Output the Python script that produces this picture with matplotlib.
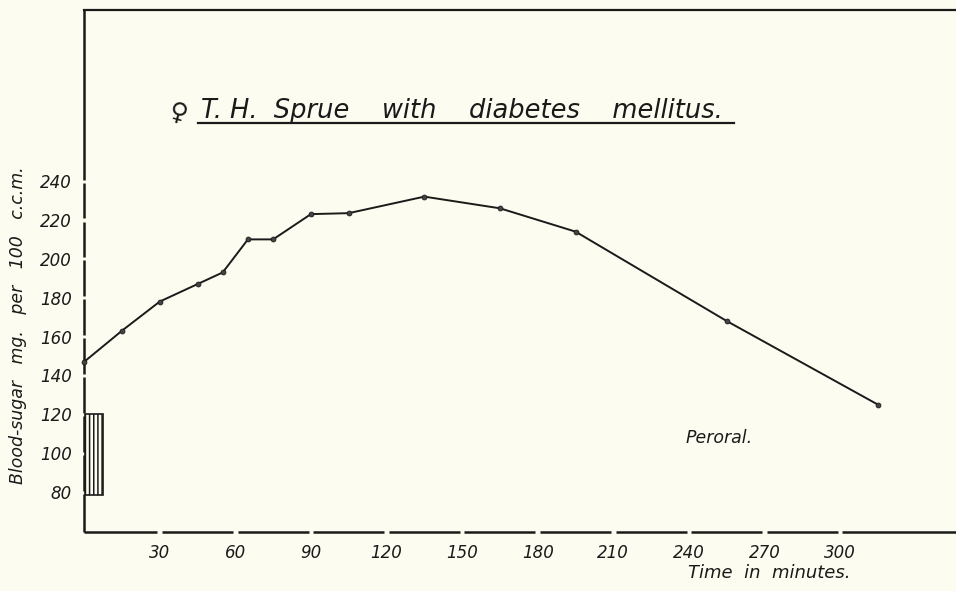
import numpy as np
import matplotlib.pyplot as plt
from matplotlib.lines import Line2D

# tidsserie: minutter / blodsukker mg per 100 ccm
minutes = [0, 15, 30, 45, 55, 65, 75, 90, 105, 135, 165, 195, 255, 315]
sugar = [147, 163, 178, 187, 193, 210, 210, 223, 223.5, 232, 226, 214, 168, 125]

xticks = [30, 60, 90, 120, 150, 180, 210, 240, 270, 300]
yticks = [80, 100, 120, 140, 160, 180, 200, 220, 240]

# dose-blokken nederst til venstre
dose_x, dose_w = 0.4, 7.0
dose_lo, dose_hi = 78.5, 120

title = "T. H.  Sprue    with    diabetes    mellitus."
ylabel = "Blood-sugar   mg.   per   100   c.c.m."
xlabel = "Time  in  minutes."
note = "Peroral."

bg = '#fdfcf0'
ink = '#1a1a1a'
plt.rcParams['font.family'] = ['DejaVu Sans']
plt.rcParams['hatch.linewidth'] = 1.1

fig = plt.figure(figsize=(9.56, 5.91), dpi=100, facecolor=bg)
ax = fig.add_axes([0.088, 0.1, 0.912, 0.883], facecolor=bg)

xmin, xmax = 0, 346
ymin, ymax = 59.5, 328
ax.set_xlim(xmin, xmax)
ax.set_ylim(ymin, ymax)

ax.plot(minutes, sugar, color=ink, lw=1.4, marker='o', ms=3.5,
        mfc='#444444', mec=ink, mew=0.6, clip_on=False, zorder=3)

ax.bar(dose_x, dose_hi - dose_lo, width=dose_w, bottom=dose_lo, align='edge',
       facecolor='none', edgecolor=ink, hatch='||||', lw=1.2, zorder=2)

# akser med små huller ved hvert tick
def gapped(ticks, lo, hi, half):
    edges = [lo] + [v for t in ticks for v in (t - half, t + half)] + [hi]
    return list(zip(edges[0::2], edges[1::2]))

for a, b in gapped(yticks, ymin, ymax, 0.8):
    ax.plot([0, 0], [a, b], color=ink, lw=1.8, clip_on=False,
            solid_capstyle='butt')
for a, b in gapped(xticks, xmin, xmax, 0.9):
    ax.plot([a, b], [ymin, ymin], color=ink, lw=1.8, clip_on=False,
            solid_capstyle='butt')

for s in ['left', 'bottom', 'right']:
    ax.spines[s].set_visible(False)
ax.spines['top'].set_linewidth(1.6)
ax.spines['top'].set_color(ink)

ax.set_xticks(xticks)
ax.set_yticks(yticks)
ax.set_xticklabels([str(v) for v in xticks], fontsize=12, style='italic',
                   color=ink)
ax.set_yticklabels([str(v) for v in yticks], fontsize=12, style='italic',
                   color=ink)
ax.tick_params(axis='x', length=0, pad=9)
ax.tick_params(axis='y', length=0, pad=9)

ax.text(252, 108, note, fontsize=12.5, style='italic', color=ink,
        ha='center', va='center')

fig.text(0.21, 0.80, title, fontsize=18.5, style='italic', color=ink,
         ha='left', va='baseline')
fig.text(0.187, 0.792, '\u2640', fontsize=18, color=ink, ha='center',
         va='baseline', rotation=-15)
fig.add_artist(Line2D([0.207, 0.768], [0.792, 0.792], color=ink, lw=1.6))

fig.text(0.019, 0.45, ylabel, fontsize=12.5, style='italic', color=ink,
         rotation=90, ha='center', va='center')
fig.text(0.89, 0.022, xlabel, fontsize=13, style='italic', color=ink,
         ha='right', va='baseline')

fig.savefig('out.png', dpi=100, facecolor=bg)
